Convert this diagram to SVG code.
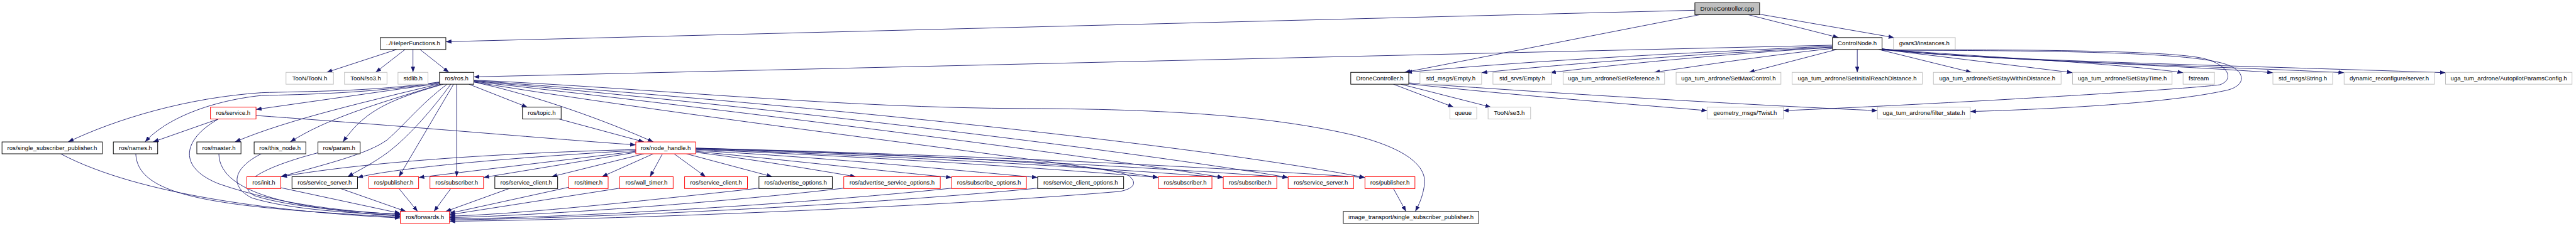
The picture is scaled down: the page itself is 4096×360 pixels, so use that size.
<svg xmlns="http://www.w3.org/2000/svg" width="4096" height="360" viewBox="0 0 4096 360">
<style>
.e{fill:none;stroke:#191970;stroke-width:1.2;marker-end:url(#a)}
.node rect{fill:#fff;stroke-width:1.3}
.k rect{stroke:#000}
.g rect{stroke:#bfbfbf}
.r rect{stroke:#ff0000}
.root rect{fill:#bfbfbf;stroke:#000}
text{font-family:"Liberation Sans",Arial,sans-serif;font-size:13px;fill:#000;text-anchor:middle}
</style>
<defs>
<marker id="a" viewBox="0 0 12 9" refX="12" refY="4.5" markerWidth="12" markerHeight="9" markerUnits="userSpaceOnUse" orient="auto"><path d="M0,0 L12,4.5 L0,9 z" fill="#191970"/></marker>
</defs>
<rect width="4096" height="360" fill="#fff"/>
<g transform="scale(0.742)">
<g id="edges">
<path class="e" d="M3632,22 L955.4,89.5"/>
<path class="e" d="M3643,31.5 L3010,155.3"/>
<path class="e" d="M3746,31.5 L3940,80.7"/>
<path class="e" d="M3770.7,30.5 L4059,80.7"/>
<path class="e" d="M850,106.2 L700,155.3"/>
<path class="e" d="M868,106.2 L805,155.3"/>
<path class="e" d="M885,106.2 L885,155.3"/>
<path class="e" d="M900,106.2 L962,155.3"/>
<path class="e" d="M3926.8,97 L1015.4,165"/>
<path class="e" d="M3926.8,99 C3650,112 3300,128 3014,155.3"/>
<path class="e" d="M3926.8,101 C3600,118 3350,138 3175,156"/>
<path class="e" d="M3926.8,102 C3700,115 3450,140 3322,156"/>
<path class="e" d="M3926.8,104 C3780,120 3650,140 3545,155.3"/>
<path class="e" d="M3936,106.2 L3748,155.3"/>
<path class="e" d="M3980,106.2 L3980,155.3"/>
<path class="e" d="M4026,106.2 L4225,155.3"/>
<path class="e" d="M4033.2,106 L4441.4,156"/>
<path class="e" d="M4033.2,105 C4200,120 4500,132 4678.2,156"/>
<path class="e" d="M4033.2,105 C4200,126 4600,136 4870.7,156"/>
<path class="e" d="M4033.2,105 C4200,128 4700,140 5023.3,156"/>
<path class="e" d="M4033.2,105 C4200,128 4700,138 5240.6,156"/>
<path class="e" d="M4033.2,107 C4400,106 4650,110 4720,125 C4775,138 4790,170 4757,182 C4650,195 4100,226 3821.4,237.5"/>
<path class="e" d="M4033.2,108 C4450,108 4700,114 4770,138 C4812,152 4815,182 4775,193 C4650,222 4400,234 4222.1,239.5"/>
<path class="e" d="M2986,180.8 L3115,230"/>
<path class="e" d="M3002,180.8 L3195,230"/>
<path class="e" d="M3018.9,180 C3250,205 3450,220 3658.2,237.5"/>
<path class="e" d="M3018.9,178 C3400,205 3800,228 4023.2,237.5"/>
<path class="e" d="M941.8,176 C800,197 650,196 560,199 C400,210 250,255 146,304.7"/>
<path class="e" d="M941.8,177 C800,200 650,203 560,205 C440,218 350,260 311,304.7"/>
<path class="e" d="M941.8,179 L548.6,235"/>
<path class="e" d="M941.8,180 C800,215 620,255 503.6,304.7"/>
<path class="e" d="M945,180.8 C800,225 700,255 622,304.7"/>
<path class="e" d="M950,180.8 C830,215 780,240 735,304.7"/>
<path class="e" d="M1005,180.8 L1130,230"/>
<path class="e" d="M1015.4,176 C1150,205 1300,260 1400,304.7"/>
<path class="e" d="M958,180.8 C900,225 870,265 830,300 C790,330 700,352 601.8,379.3"/>
<path class="e" d="M966,180.8 C930,230 880,290 830,328 C800,350 770,365 745,379.3"/>
<path class="e" d="M972,180.8 L855,379.3"/>
<path class="e" d="M978.6,180.8 L978.6,379.3"/>
<path class="e" d="M1015.4,172 C1400,190 1800,232 2200,233 C2550,234 2750,255 2900,290 C3020,320 3060,360 3052,400 C3048,425 3040,440 3033,454"/>
<path class="e" d="M1015.4,173 C1600,215 2500,300 2925,381"/>
<path class="e" d="M1015.4,174 C1600,225 2400,320 2760.4,381"/>
<path class="e" d="M1015.4,175 C1600,240 2300,330 2621.4,381"/>
<path class="e" d="M1015.4,176 C1500,255 2150,330 2482.5,381"/>
<path class="e" d="M468,255.5 L328,304.7"/>
<path class="e" d="M548.6,248 C900,273 1200,300 1362.5,311"/>
<path class="e" d="M468,255.5 C390,300 380,360 470,395 C600,440 750,455 857.9,460"/>
<path class="e" d="M130,330.2 C300,420 600,455 857.9,468"/>
<path class="e" d="M291,330.2 C295,420 450,445 857.9,466"/>
<path class="e" d="M469,330.2 C470,420 650,450 857.9,464"/>
<path class="e" d="M560,330.2 C500,360 490,400 540,425 C620,450 760,458 857.9,462"/>
<path class="e" d="M681.4,328 C560,360 500,395 545,420 C620,445 760,455 857.9,460"/>
<path class="e" d="M601.8,403 L857.9,458"/>
<path class="e" d="M730,404.8 L870,454"/>
<path class="e" d="M855,404.8 L895,454"/>
<path class="e" d="M966,404.8 L930,454"/>
<path class="e" d="M1091,404.8 L955,454"/>
<path class="e" d="M1218.9,402 L963.2,458"/>
<path class="e" d="M1327.9,404 L963.2,461"/>
<path class="e" d="M1626.4,404 C1300,440 1100,460 963.2,464"/>
<path class="e" d="M1808.2,404 C1500,440 1100,465 963.2,467"/>
<path class="e" d="M2039.3,404 C1700,440 1200,468 963.2,470"/>
<path class="e" d="M2223.6,404 C1800,445 1200,470 963.2,472"/>
<path class="e" d="M1490.7,318 C1900,330 2380,350 2420,378 C2440,395 2425,406 2400,411 C2000,445 1300,472 963.2,475"/>
<path class="e" d="M1380,330.2 L1182,379.3"/>
<path class="e" d="M1400,330.2 L1290,379.3"/>
<path class="e" d="M1419.6,330.2 L1393,379.3"/>
<path class="e" d="M1444.6,330.2 L1512,379.3"/>
<path class="e" d="M1471,330.2 L1655,379.3"/>
<path class="e" d="M1490.7,327 C1600,340 1750,365 1834,379.3"/>
<path class="e" d="M1490.7,325 C1700,345 1900,368 2039.3,381"/>
<path class="e" d="M1490.7,323 C1800,340 2050,366 2223.6,381"/>
<path class="e" d="M1490.7,321 C1900,338 2250,362 2482.5,381"/>
<path class="e" d="M1490.7,320 C1950,336 2350,360 2621.4,381"/>
<path class="e" d="M1490.7,319 C2000,334 2450,358 2760.4,381"/>
<path class="e" d="M1490.7,318 C2050,332 2550,356 2925,381"/>
<path class="e" d="M1362.5,321 C1100,328 800,345 603,379.3"/>
<path class="e" d="M1362.5,323 C1100,338 850,360 766,381"/>
<path class="e" d="M1362.5,325 L897.1,381"/>
<path class="e" d="M1362.5,327 L1036.1,381"/>
<path class="e" d="M2986,404.8 L3013,454"/>
<path class="e" d="M1198,255.5 L1380,304.7"/>
</g>
<g id="root" class="node root"><rect x="3632" y="6" width="138.7" height="25.5"/><text x="3701.35" y="22.8">DroneController.cpp</text></g>
<g id="helper" class="node k"><rect x="815" y="80.7" width="140.4" height="25.5"/><text x="885.2" y="97.5">../HelperFunctions.h</text></g>
<g id="controlnode" class="node k"><rect x="3926.8" y="80.7" width="106.4" height="25.5"/><text x="3980" y="97.5">ControlNode.h</text></g>
<g id="gvars" class="node g"><rect x="4057.5" y="80.7" width="132.5" height="25.5"/><text x="4123.75" y="97.5">gvars3/instances.h</text></g>
<g id="toon" class="node g"><rect x="612.9" y="155.3" width="101.7" height="25.5"/><text x="663.75" y="172.1">TooN/TooN.h</text></g>
<g id="so3" class="node g"><rect x="738.2" y="155.3" width="91.1" height="25.5"/><text x="783.75" y="172.1">TooN/so3.h</text></g>
<g id="stdlib" class="node g"><rect x="852.9" y="155.3" width="64.2" height="25.5"/><text x="885" y="172.1">stdlib.h</text></g>
<g id="ros" class="node k"><rect x="941.8" y="155.3" width="73.6" height="25.5"/><text x="978.6" y="172.1">ros/ros.h</text></g>
<g id="dch" class="node k"><rect x="2894.6" y="155.3" width="124.3" height="25.5"/><text x="2956.75" y="172.1">DroneController.h</text></g>
<g id="msgempty" class="node g"><rect x="3042.9" y="155.3" width="132.1" height="25.5"/><text x="3108.95" y="172.1">std_msgs/Empty.h</text></g>
<g id="srvempty" class="node g"><rect x="3199.3" y="155.3" width="126.1" height="25.5"/><text x="3262.35" y="172.1">std_srvs/Empty.h</text></g>
<g id="setref" class="node g"><rect x="3349.6" y="155.3" width="217.5" height="25.5"/><text x="3458.35" y="172.1">uga_tum_ardrone/SetReference.h</text></g>
<g id="setmax" class="node g"><rect x="3591.8" y="155.3" width="224.6" height="25.5"/><text x="3704.1" y="172.1">uga_tum_ardrone/SetMaxControl.h</text></g>
<g id="setinit" class="node g"><rect x="3840.4" y="155.3" width="278.9" height="25.5"/><text x="3979.85" y="172.1">uga_tum_ardrone/SetInitialReachDistance.h</text></g>
<g id="setstay" class="node g"><rect x="4143.2" y="155.3" width="273.6" height="25.5"/><text x="4280" y="172.1">uga_tum_ardrone/SetStayWithinDistance.h</text></g>
<g id="settime" class="node g"><rect x="4441.4" y="155.3" width="213.2" height="25.5"/><text x="4548" y="172.1">uga_tum_ardrone/SetStayTime.h</text></g>
<g id="fstream" class="node g"><rect x="4678.2" y="155.3" width="67.2" height="25.5"/><text x="4711.8" y="172.1">fstream</text></g>
<g id="string" class="node g"><rect x="4870.7" y="155.3" width="128" height="25.5"/><text x="4934.7" y="172.1">std_msgs/String.h</text></g>
<g id="dyn" class="node g"><rect x="5023.3" y="155.3" width="193.5" height="25.5"/><text x="5120.05" y="172.1">dynamic_reconfigure/server.h</text></g>
<g id="autocfg" class="node g"><rect x="5240.6" y="155.3" width="271.1" height="25.5"/><text x="5376.15" y="172.1">uga_tum_ardrone/AutopilotParamsConfig.h</text></g>
<g id="service" class="node r"><rect x="451" y="230" width="97.6" height="25.5"/><text x="499.8" y="246.8">ros/service.h</text></g>
<g id="topic" class="node k"><rect x="1119.6" y="230" width="82.9" height="25.5"/><text x="1161.05" y="246.8">ros/topic.h</text></g>
<g id="queue" class="node g"><rect x="3107.1" y="230" width="57.5" height="25.5"/><text x="3135.85" y="246.8">queue</text></g>
<g id="se3" class="node g"><rect x="3188.9" y="230" width="91.1" height="25.5"/><text x="3234.45" y="246.8">TooN/se3.h</text></g>
<g id="twist" class="node g"><rect x="3658.2" y="230" width="163.2" height="25.5"/><text x="3739.8" y="246.8">geometry_msgs/Twist.h</text></g>
<g id="filter" class="node g"><rect x="4023.2" y="230" width="198.9" height="25.5"/><text x="4122.65" y="246.8">uga_tum_ardrone/filter_state.h</text></g>
<g id="ssp" class="node k"><rect x="4.3" y="304.7" width="215" height="25.5"/><text x="111.8" y="321.5">ros/single_subscriber_publisher.h</text></g>
<g id="names" class="node k"><rect x="242.9" y="304.7" width="95" height="25.5"/><text x="290.4" y="321.5">ros/names.h</text></g>
<g id="master" class="node k"><rect x="421.8" y="304.7" width="94.6" height="25.5"/><text x="469.1" y="321.5">ros/master.h</text></g>
<g id="thisnode" class="node k"><rect x="544.6" y="304.7" width="110.8" height="25.5"/><text x="600" y="321.5">ros/this_node.h</text></g>
<g id="param" class="node k"><rect x="681.4" y="304.7" width="90.4" height="25.5"/><text x="726.6" y="321.5">ros/param.h</text></g>
<g id="nodehandle" class="node r"><rect x="1362.5" y="304.7" width="128.2" height="25.5"/><text x="1426.6" y="321.5">ros/node_handle.h</text></g>
<g id="init" class="node r"><rect x="528.9" y="379.3" width="72.9" height="25.5"/><text x="565.35" y="396.1">ros/init.h</text></g>
<g id="ss1" class="node k"><rect x="625.7" y="379.3" width="140.4" height="25.5"/><text x="695.9" y="396.1">ros/service_server.h</text></g>
<g id="pub1" class="node r"><rect x="790.4" y="379.3" width="106.7" height="25.5"/><text x="843.75" y="396.1">ros/publisher.h</text></g>
<g id="sub1" class="node r"><rect x="921.4" y="379.3" width="114.7" height="25.5"/><text x="978.75" y="396.1">ros/subscriber.h</text></g>
<g id="sc1" class="node k"><rect x="1060.4" y="379.3" width="134.6" height="25.5"/><text x="1127.7" y="396.1">ros/service_client.h</text></g>
<g id="timer" class="node r"><rect x="1218.9" y="379.3" width="84.3" height="25.5"/><text x="1261.05" y="396.1">ros/timer.h</text></g>
<g id="wtimer" class="node r"><rect x="1327.9" y="379.3" width="114.6" height="25.5"/><text x="1385.2" y="396.1">ros/wall_timer.h</text></g>
<g id="sc2" class="node r"><rect x="1467.1" y="379.3" width="134.7" height="25.5"/><text x="1534.45" y="396.1">ros/service_client.h</text></g>
<g id="ao" class="node k"><rect x="1626.4" y="379.3" width="157.2" height="25.5"/><text x="1705" y="396.1">ros/advertise_options.h</text></g>
<g id="aso" class="node r"><rect x="1808.2" y="379.3" width="206.8" height="25.5"/><text x="1911.6" y="396.1">ros/advertise_service_options.h</text></g>
<g id="so" class="node r"><rect x="2039.3" y="379.3" width="160.3" height="25.5"/><text x="2119.45" y="396.1">ros/subscribe_options.h</text></g>
<g id="sco" class="node k"><rect x="2223.6" y="379.3" width="184.3" height="25.5"/><text x="2315.75" y="396.1">ros/service_client_options.h</text></g>
<g id="sub2" class="node r"><rect x="2482.5" y="379.3" width="114.6" height="25.5"/><text x="2539.8" y="396.1">ros/subscriber.h</text></g>
<g id="sub3" class="node r"><rect x="2621.4" y="379.3" width="114.7" height="25.5"/><text x="2678.75" y="396.1">ros/subscriber.h</text></g>
<g id="ss2" class="node r"><rect x="2760.4" y="379.3" width="140.3" height="25.5"/><text x="2830.55" y="396.1">ros/service_server.h</text></g>
<g id="pub2" class="node r"><rect x="2925" y="379.3" width="107.1" height="25.5"/><text x="2978.55" y="396.1">ros/publisher.h</text></g>
<g id="forwards" class="node r"><rect x="857.9" y="454" width="105.3" height="25.5"/><text x="910.55" y="470.8">ros/forwards.h</text></g>
<g id="itssp" class="node k"><rect x="2878.6" y="454" width="290.3" height="25.5"/><text x="3023.75" y="470.8">image_transport/single_subscriber_publisher.h</text></g>
</g>
</svg>
